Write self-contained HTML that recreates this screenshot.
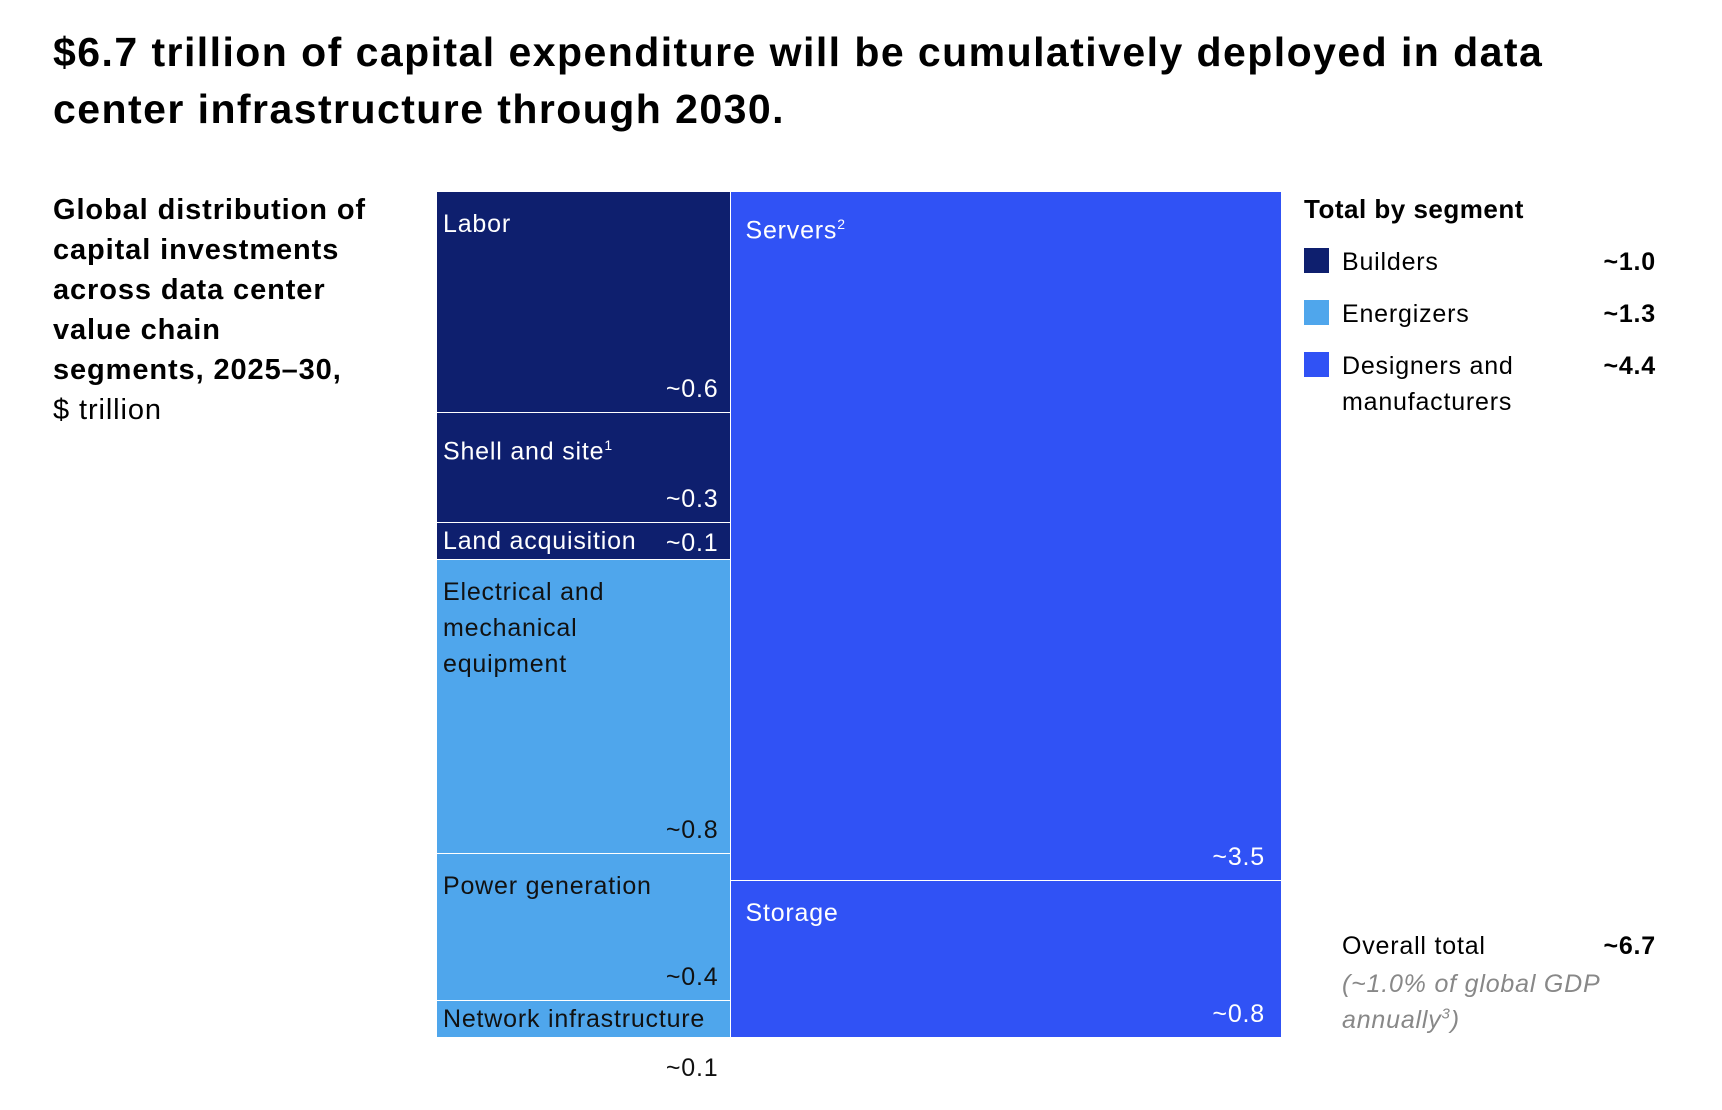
<!DOCTYPE html>
<html><head><meta charset="utf-8">
<style>
body{margin:0;width:1722px;height:1110px;background:#fff;font-family:"Liberation Sans",sans-serif;color:#000;position:relative;overflow:hidden}
.abs{position:absolute}
#title{left:53px;top:24px;font-size:41px;font-weight:bold;line-height:57px;letter-spacing:1.45px;white-space:nowrap}
#sub{left:53px;top:190px;font-size:29px;line-height:40px;font-weight:bold;width:400px;letter-spacing:0.9px;white-space:nowrap}
.cell{position:absolute;box-sizing:border-box;border:1px solid #fff;color:#fff;font-size:25px;letter-spacing:0.8px}
.cell .lbl{position:absolute;left:6px;top:14px;line-height:36px}
.cell .val{position:absolute;right:12px;bottom:8px}
.leg{font-size:25px;letter-spacing:0.8px}
.sw{position:absolute;width:25px;height:25px}
</style></head><body>
<div id="title" class="abs">$6.7 trillion of capital expenditure will be cumulatively deployed in data<br>center infrastructure through 2030.</div>
<div id="sub" class="abs">Global distribution of<br>capital investments<br>across data center<br>value chain<br>segments, 2025–30,<br><span style="font-weight:normal">$ trillion</span></div>
<div id="chart" class="abs" style="left:0;top:0;width:1722px;height:1110px"></div>

<div class="abs leg" style="left:1304px;top:194px;font-weight:bold;font-size:26px;letter-spacing:0.5px">Total by segment</div>
<div id="legend"></div>
<div class="abs leg" style="left:1342px;top:932px">Overall total</div>
<div class="abs leg" style="right:66px;top:932px;font-weight:bold">~6.7</div>
<div class="abs leg" style="left:1342px;top:966px;color:#888;font-style:italic;line-height:36px">(~1.0% of global GDP<br>annually<sup style="font-size:15px;line-height:0">3</sup>)</div>

<script>
const leftNames=["Labor","Shell and site<sup style='font-size:14px'>1</sup>","Land acquisition","Electrical and<br>mechanical<br>equipment","Power generation","Network infrastructure"];
const leftValues=[0.6,0.3,0.1,0.8,0.4,0.1];
const leftSegments=[0,0,0,1,1,1];
const rightNames=["Servers<sup style='font-size:14px'>2</sup>","Storage"];
const rightValues=[3.5,0.8];
const rightSegments=[2,2];
const segNames=["Builders","Energizers","Designers and<br>manufacturers"];
const segTotals=["~1.0","~1.3","~4.4"];
const colors=["#0e1f6e","#4fa6ec","#3052f5"];

const X0=436,X1=1281,Y0=191,Y1=1037;
const sum=a=>a.reduce((s,v)=>s+v,0);
const total=sum(leftValues)+sum(rightValues);
const xSplit=X0+(X1-X0)*sum(leftValues)/total;
const chart=document.getElementById('chart');
function column(names,vals,segs,x0,x1,prefix){
  let y=Y0;const tot=sum(vals);
  names.forEach((n,i)=>{
    const h=(Y1-Y0)*vals[i]/tot;
    const d=document.createElement('div');
    d.className='cell';
    
    
    d.style.cssText=`left:${x0}px;top:${y}px;width:${x1-x0+1}px;height:${h+1}px;background:${colors[segs[i]]}`;
    const small=h<60;
    const lbl=document.createElement('div');lbl.className='lbl';lbl.innerHTML=n;
    lbl.style.color=segs[i]===1?'#111':'#fff';
    if(small){lbl.style.top='0px';}
    if(prefix==='right'){lbl.style.left='14px';}
    d.appendChild(lbl);
    const v=document.createElement('div');v.className='val';v.textContent='~'+vals[i];
    v.style.color=segs[i]===1?'#111':'#fff';
    if(prefix==='right'){v.style.right='16px';}
    if(small&&i===names.length-1&&prefix==='left'){v.style.bottom='-46px';v.style.color='#111';}
    else if(small){v.style.bottom='1px';}
    d.appendChild(v);
    chart.appendChild(d);
    y+=h;
  });
}
column(leftNames,leftValues,leftSegments,X0,xSplit,'left');
column(rightNames,rightValues,rightSegments,xSplit,X1,'right');

const leg=document.getElementById('legend');
segNames.forEach((n,i)=>{
  const top=248+i*52;
  const s=document.createElement('div');s.className='sw';
  
  
  s.style.cssText=`left:1304px;top:${top}px;background:${colors[i]}`;
  leg.appendChild(s);
  const t=document.createElement('div');t.className='abs leg';
  
  
  t.style.cssText=`left:1342px;top:${top-4}px;line-height:36px`;t.innerHTML=n;
  leg.appendChild(t);
  const v=document.createElement('div');v.className='abs leg';
  
  
  v.style.cssText=`right:66px;top:${top-4}px;font-weight:bold;line-height:36px`;v.textContent=segTotals[i];
  leg.appendChild(v);
});
</script>
</body></html>
